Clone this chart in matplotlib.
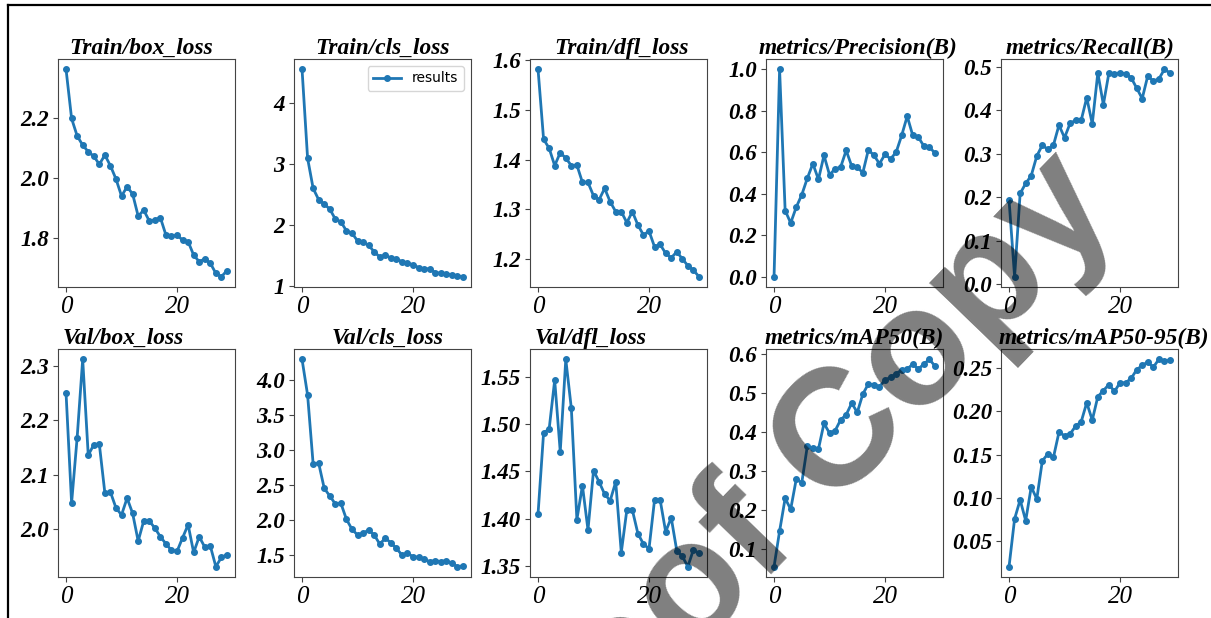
import matplotlib
matplotlib.use("Agg")
import matplotlib.pyplot as plt
from matplotlib.lines import Line2D

epochs = list(range(30))

titles = ["Train/box_loss", "Train/cls_loss", "Train/dfl_loss",
          "metrics/Precision(B)", "metrics/Recall(B)",
          "Val/box_loss", "Val/cls_loss", "Val/dfl_loss",
          "metrics/mAP50(B)", "metrics/mAP50-95(B)"]

train_box_loss = [2.364, 2.200, 2.142, 2.111, 2.089, 2.074, 2.047, 2.078, 2.042, 1.998,
                  1.941, 1.972, 1.948, 1.874, 1.894, 1.858, 1.861, 1.869, 1.811, 1.806,
                  1.811, 1.794, 1.789, 1.744, 1.722, 1.731, 1.717, 1.683, 1.672, 1.692]
train_cls_loss = [4.546, 3.093, 2.601, 2.415, 2.344, 2.262, 2.098, 2.055, 1.907, 1.869,
                  1.743, 1.716, 1.672, 1.563, 1.481, 1.508, 1.464, 1.454, 1.399, 1.377,
                  1.355, 1.306, 1.279, 1.290, 1.224, 1.213, 1.202, 1.191, 1.169, 1.158]
train_dfl_loss = [1.582, 1.441, 1.423, 1.388, 1.414, 1.403, 1.388, 1.389, 1.354, 1.354,
                  1.327, 1.319, 1.342, 1.315, 1.295, 1.295, 1.273, 1.295, 1.268, 1.248,
                  1.256, 1.224, 1.229, 1.211, 1.202, 1.214, 1.200, 1.186, 1.177, 1.164]
precision = [0.000, 1.000, 0.319, 0.259, 0.335, 0.395, 0.475, 0.545, 0.469, 0.585,
             0.491, 0.520, 0.528, 0.609, 0.533, 0.528, 0.501, 0.612, 0.585, 0.545,
             0.590, 0.568, 0.600, 0.681, 0.774, 0.681, 0.673, 0.630, 0.625, 0.596]
recall = [0.194, 0.018, 0.209, 0.232, 0.250, 0.295, 0.320, 0.310, 0.320, 0.366,
          0.337, 0.370, 0.377, 0.377, 0.429, 0.369, 0.486, 0.413, 0.486, 0.484,
          0.486, 0.484, 0.475, 0.451, 0.427, 0.479, 0.467, 0.472, 0.494, 0.486]
val_box_loss = [2.250, 2.048, 2.168, 2.312, 2.136, 2.155, 2.156, 2.066, 2.068, 2.039,
                2.026, 2.057, 2.029, 1.978, 2.015, 2.015, 2.002, 1.986, 1.973, 1.961,
                1.959, 1.984, 2.008, 1.957, 1.986, 1.967, 1.969, 1.931, 1.948, 1.953]
val_cls_loss = [4.295, 3.786, 2.800, 2.810, 2.452, 2.343, 2.229, 2.238, 2.010, 1.867,
                1.786, 1.810, 1.857, 1.786, 1.657, 1.738, 1.676, 1.595, 1.500, 1.524,
                1.476, 1.467, 1.438, 1.405, 1.419, 1.405, 1.419, 1.381, 1.333, 1.343]
val_dfl_loss = [1.405, 1.491, 1.495, 1.547, 1.471, 1.569, 1.517, 1.399, 1.435, 1.388,
                1.451, 1.439, 1.426, 1.419, 1.439, 1.364, 1.409, 1.409, 1.384, 1.373,
                1.368, 1.420, 1.420, 1.386, 1.401, 1.366, 1.360, 1.349, 1.367, 1.363]
map50 = [0.055, 0.146, 0.230, 0.202, 0.279, 0.270, 0.364, 0.358, 0.356, 0.422,
         0.397, 0.403, 0.431, 0.444, 0.474, 0.450, 0.497, 0.523, 0.521, 0.516,
         0.533, 0.540, 0.549, 0.559, 0.561, 0.574, 0.561, 0.574, 0.586, 0.569]
map50_95 = [0.021, 0.076, 0.098, 0.074, 0.113, 0.099, 0.143, 0.151, 0.147, 0.176,
            0.172, 0.174, 0.183, 0.188, 0.210, 0.190, 0.217, 0.224, 0.231, 0.223,
            0.233, 0.233, 0.238, 0.248, 0.253, 0.257, 0.251, 0.260, 0.258, 0.259]

series = [train_box_loss, train_cls_loss, train_dfl_loss, precision, recall,
          val_box_loss, val_cls_loss, val_dfl_loss, map50, map50_95]

yticks = [[1.8, 2.0, 2.2], [1, 2, 3, 4], [1.2, 1.3, 1.4, 1.5, 1.6],
          [0.0, 0.2, 0.4, 0.6, 0.8, 1.0], [0.0, 0.1, 0.2, 0.3, 0.4, 0.5],
          [2.0, 2.1, 2.2, 2.3], [1.5, 2.0, 2.5, 3.0, 3.5, 4.0],
          [1.35, 1.40, 1.45, 1.50, 1.55], [0.1, 0.2, 0.3, 0.4, 0.5, 0.6],
          [0.05, 0.10, 0.15, 0.20, 0.25]]
xticks = [0, 20]

W, H = 1211, 618
fig = plt.figure(figsize=(W / 100, H / 100), dpi=100)

lefts_px = [58, 294, 530, 766, 1001]
ax_w = 177
rows_px = [(59, 287), (349, 577)]
title_x = [0.47, 0.5, 0.52, 0.52, 0.5, 0.37, 0.53, 0.34, 0.5, 0.58]

serif = "Liberation Serif"
spine_col = "#444444"

for i, (ttl, ys) in enumerate(zip(titles, series)):
    r, c = divmod(i, 5)
    top, bot = rows_px[r]
    ax = fig.add_axes([lefts_px[c] / W, 1 - bot / H, ax_w / W, (bot - top) / H])
    ax.plot(epochs, ys, marker=".", markersize=8, linewidth=2, color="#1f77b4",
            label="results")
    ax.set_yticks(yticks[i])
    ax.set_xticks(xticks)
    for lab in ax.get_yticklabels():
        lab.set_fontfamily(serif)
        lab.set_fontstyle("italic")
        lab.set_fontweight("bold")
        lab.set_fontsize(16.5)
    for lab in ax.get_xticklabels():
        lab.set_fontfamily(serif)
        lab.set_fontstyle("italic")
        lab.set_fontsize(18)
    for s in ax.spines.values():
        s.set_color(spine_col)
    ax.tick_params(colors=spine_col, labelcolor="black", pad=3)
    ax.set_title(ttl, x=title_x[i], fontfamily=serif, fontstyle="italic",
                 fontweight="bold", fontsize=16.8, pad=3)
    if i == 1:
        ax.legend(loc="upper right", fontsize=10)

# page border lines (left and top)
fig.add_artist(Line2D([7.5 / W, 7.5 / W], [0, 1 - 4.5 / H], color="black", lw=1.6,
                      transform=fig.transFigure))
fig.add_artist(Line2D([7.5 / W, 1], [1 - 4.5 / H, 1 - 4.5 / H], color="black", lw=1.6,
                      transform=fig.transFigure))

# watermark
fig.text(778 / W, 1 - 505 / H, "Proof Copy", rotation=46, rotation_mode="anchor",
         ha="center", va="center", fontsize=120, fontweight="bold",
         family="Liberation Sans", color=(0, 0, 0, 0.5), zorder=100)

fig.savefig("out.png", dpi=100)
